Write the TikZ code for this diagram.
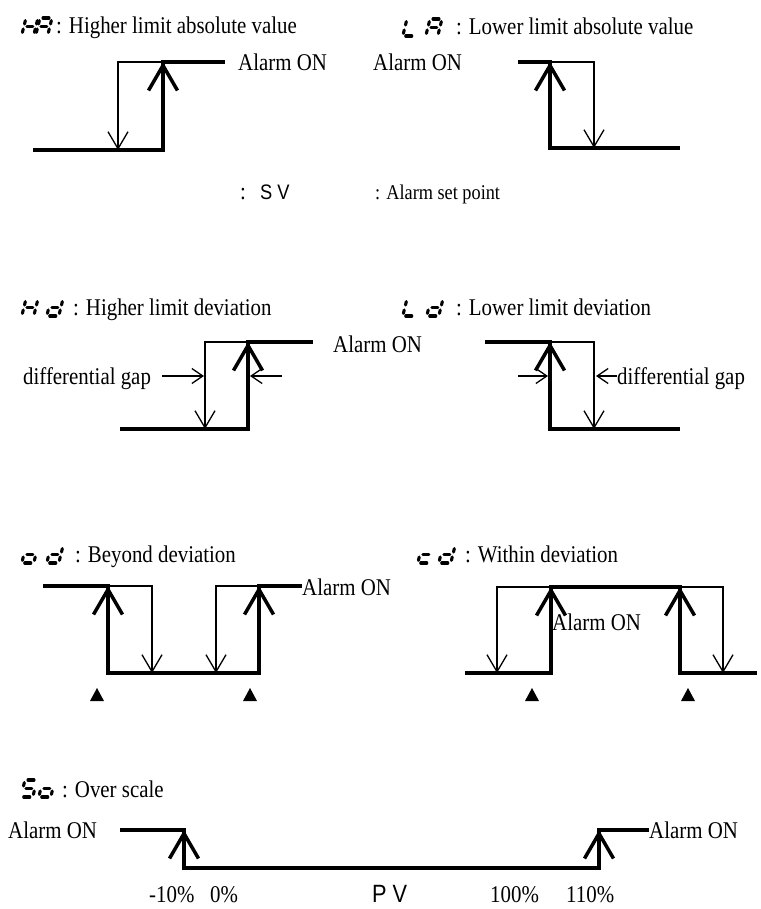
\documentclass[tikz,border=0pt]{standalone}
\usepackage{fontspec}
\setmainfont{Liberation Serif}[FakeStretch=0.87]
\setsansfont{Liberation Sans}[FakeStretch=0.87]
\usetikzlibrary{arrows.meta}
\tikzset{
  wave/.style={line width=3.5pt, line join=miter},
  hyst/.style={line width=1.3pt},
  bigtip/.tip={Straight Barb[length=25pt,width=29pt,line width=3.5pt]},
  smalltip/.tip={Straight Barb[length=17pt,width=20pt,line width=1.3pt]},
  gaptip/.tip={Straight Barb[length=11pt,width=15pt,line width=1.3pt]},
  lbl/.style={font=\fontsize{24}{28}\selectfont, inner sep=0pt, anchor=base west},
  smlbl/.style={font=\fontsize{21}{25}\selectfont, inner sep=0pt, anchor=base west},
  sflbl/.style={font=\sffamily\fontsize{21}{25}\selectfont, inner sep=0pt, anchor=base west},
  seg/.style={line width=3.1pt, line cap=round},
  trimark/.style={fill=black},
}
\def\sgA{\draw[seg] (3,0)--(9,0);}
\def\sgB{\draw[seg] (12,2.6)--(12,6);}
\def\sgC{\draw[seg] (12,11)--(12,14.4);}
\def\sgD{\draw[seg] (3,17)--(9,17);}
\def\sgE{\draw[seg] (0,11)--(0,14.4);}
\def\sgF{\draw[seg] (0,2.6)--(0,6);}
\def\sgG{\draw[seg] (3,8.5)--(9,8.5);}
\newcommand\segglyph[3]{%
  \begin{scope}[shift={(#1,#2)}, xslant=0.25]
    \foreach \s in {#3}{\csname sg\s\endcsname}
  \end{scope}}
\begin{document}
\begin{tikzpicture}[x=1pt,y=-1pt]
\useasboundingbox (0,0) rectangle (760,909);

% ---------- HA ----------
\segglyph{26}{18}{F,E,B,C,G}
\segglyph{40}{18}{A,F,B,G,E,C}
\node[lbl] (t1) at (56,34) {: Higher limit absolute value};
\draw[wave] (33,150) -- (163,150) -- (163,62) -- (225,62);
\draw[hyst,-{smalltip}] (163,62) -- (118,62) -- (118,150);
\draw[wave,-{bigtip}] (163,120) -- (163,62);
\node[lbl] (a1) at (238,71) {Alarm ON};

% ---------- LA ----------
\segglyph{407}{19}{F,E,D}
\segglyph{430}{19}{A,F,B,G,E,C}
\node[lbl] (t2) at (456,35) {: Lower limit absolute value};
\draw[wave] (518,62) -- (550,62) -- (550,148) -- (680,148);
\draw[hyst,-{smalltip}] (550,62) -- (594,62) -- (594,148);
\draw[wave,-{bigtip}] (550,110) -- (550,62);
\node[lbl] (a2) at (373,71) {Alarm ON};

% ---------- SV line ----------
\node[lbl] (c1) at (240,200) {:};
\node[sflbl] (sv) at (260,200) {S V};
\node[smlbl] (asp) at (375,200) {: Alarm set point};

% ---------- Hd ----------
\segglyph{26}{299}{F,E,B,C,G}
\segglyph{51}{299}{B,C,G,E,D}
\node[lbl] (t3) at (73,315) {: Higher limit deviation};
\draw[wave] (120,429) -- (248,429) -- (248,342) -- (313,342);
\draw[hyst,-{smalltip}] (248,342) -- (205,342) -- (205,429);
\draw[wave,-{bigtip}] (248,400) -- (248,342);
\node[lbl] (dg1) at (23,384) {differential gap};
\draw[hyst,-{gaptip}] (162,376) -- (204,376);
\draw[hyst,-{gaptip}] (282,376) -- (250,376);
\node[lbl] (a3) at (333,352) {Alarm ON};

% ---------- Ld ----------
\segglyph{407}{299}{F,E,D}
\segglyph{431}{299}{B,C,G,E,D}
\node[lbl] (t4) at (456,315) {: Lower limit deviation};
\draw[wave] (485,342) -- (550,342) -- (550,429) -- (680,429);
\draw[hyst,-{smalltip}] (550,342) -- (594,342) -- (594,429);
\draw[wave,-{bigtip}] (550,400) -- (550,342);
\draw[hyst,-{gaptip}] (518,376) -- (548,376);
\node[lbl] (dg2) at (617,384) {differential gap};
\draw[hyst,-{gaptip}] (617,376) -- (596,376);

% ---------- od ----------
\segglyph{26}{546}{G,E,C,D}
\segglyph{51}{546}{B,C,G,E,D}
\node[lbl] (t5) at (75,562) {: Beyond deviation};
\draw[wave] (43,586) -- (108,586) -- (108,673) -- (259,673) -- (259,586) -- (302,586);
\draw[hyst,-{smalltip}] (108,586) -- (152,586) -- (152,673);
\draw[hyst,-{smalltip}] (259,586) -- (216,586) -- (216,673);
\draw[wave,-{bigtip}] (108,640) -- (108,586);
\draw[wave,-{bigtip}] (259,640) -- (259,586);
\node[lbl] (a5) at (302,595) {Alarm ON};
\fill[trimark] (90,701) -- (104,701) -- (97,688) -- cycle;
\fill[trimark] (243,701) -- (257,701) -- (250,688) -- cycle;

% ---------- id ----------
\segglyph{422}{546}{G,E,D}
\segglyph{443}{546}{B,C,G,E,D}
\node[lbl] (t6) at (465,562) {: Within deviation};
\draw[wave] (465,673) -- (551,673) -- (551,587) -- (680,587) -- (680,673) -- (757,673);
\draw[hyst,-{smalltip}] (551,587) -- (497,587) -- (497,673);
\draw[hyst,-{smalltip}] (680,587) -- (723,587) -- (723,673);
\draw[wave,-{bigtip}] (551,640) -- (551,587);
\draw[wave,-{bigtip}] (680,640) -- (680,587);
\node[lbl] (a6) at (552,630) {Alarm ON};
\fill[trimark] (525,701) -- (539,701) -- (532,688) -- cycle;
\fill[trimark] (681,701) -- (695,701) -- (688,688) -- cycle;

% ---------- So ----------
\segglyph{25}{780}{A,F,G,C,D}
\segglyph{43}{780}{G,E,C,D}
\node[lbl] (t7) at (62,797) {: Over scale};
\node[lbl] (a7l) at (8,838) {Alarm ON};
\draw[wave] (120,830) -- (184,830) -- (184,868) -- (599,868) -- (599,830) -- (649,830);
\draw[wave,-{bigtip}] (184,862) -- (184,830);
\draw[wave,-{bigtip}] (599,862) -- (599,830);
\node[lbl] (a7r) at (649,838) {Alarm ON};
\node[lbl] (m10) at (149,902) {-10\%};
\node[lbl] (p0) at (210,902) {0\%};
\node[sflbl,font=\sffamily\fontsize{25}{29}\selectfont] (pv) at (372,902) {P V};
\node[lbl] (p100) at (490,902) {100\%};
\node[lbl] (p110) at (566,902) {110\%};
\end{tikzpicture}
\end{document}
